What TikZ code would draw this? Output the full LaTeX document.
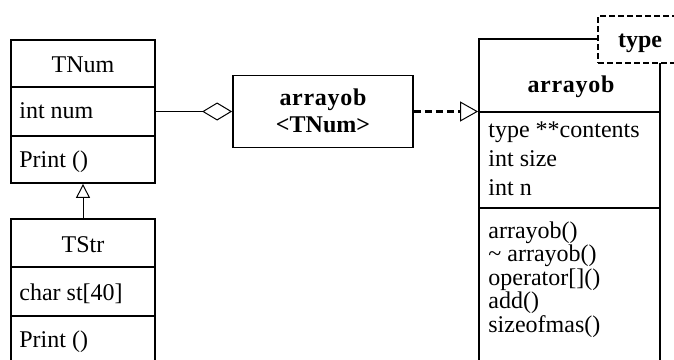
\documentclass[tikz,border=0pt]{standalone}
\usepackage{fontspec}
\setmainfont{Liberation Serif}
\usetikzlibrary{arrows.meta,positioning}
\tikzset{
	box/.style={rectangle, draw, line width=0.9pt, inner sep=0pt},
	rule/.style={line width=0.9pt},
	inherit/.style={-{Triangle[open,length=7pt,width=7pt]}, line width=0.5pt},
	aggregate/.style={-{Diamond[open,length=15pt,width=9pt]}, line width=0.5pt},
	realize/.style={-{Triangle[open,length=9pt,width=10pt,line width=0.5pt]}, line width=1.3pt, dash pattern=on 3.5pt off 2pt}
}

\begin{document}
\begin{tikzpicture}[x=0.5pt, y=-0.5pt,
		font=\fontsize{12}{14}\selectfont,
		plain/.style = {anchor=base west, inner sep=0pt},
		bold/.style = {anchor=base, inner sep=0pt, font=\fontsize{12}{14}\selectfont\bfseries},
	]
	\useasboundingbox (0,0) rectangle (674,359);
	\clip (0,0) rectangle (674,359);

	% base class and derived class
	\node [box, minimum width=72pt, minimum height=71.5pt] (tnum) at (83,111.5) {};
	\node [box, minimum width=72pt, minimum height=75.5pt] (tstr) at (83,294.5) {};
	\foreach\y in {87,136}{
		\draw [rule] (tnum.west |- 0,\y) -- (tnum.east |- 0,\y);
	}
	\foreach\y in {267,316}{
		\draw [rule] (tstr.west |- 0,\y) -- (tstr.east |- 0,\y);
	}
	\node [bold, font=\fontsize{12}{14}\selectfont] (tnumname) at (83,72) {TNum};
	\node [plain] (tnumattr) at (19,118) {int num};
	\node [plain] (tnumop) at (19,167) {Print ()};
	\node [bold, font=\fontsize{12}{14}\selectfont] (tstrname) at (83,252) {TStr};
	\node [plain] (tstrattr) at (19,300) {char st[40]};
	\node [plain] (tstrop) at (19,347) {Print ()};

	% instantiated template
	\node [box, minimum width=90pt, minimum height=36pt] (tmpl) at (323,111.5) {};
	\node [bold] (tmplname) at (323,105) {\addfontfeature{LetterSpace=3}arrayob};
	\node [bold] (tmplarg) at (323,132) {<TNum>};

	% template class
	\node [box, minimum width=90.5pt, minimum height=165.5pt] (arrayob) at (569.5,204.5) {};
	\foreach\y in {112,208}{
		\draw [rule] (arrayob.west |- 0,\y) -- (arrayob.east |- 0,\y);
	}
	\node [bold] (arrayobname) at (571,92) {\addfontfeature{LetterSpace=3}arrayob};
	\foreach\txt [count=\i] in {type **contents, int size, int n}{
		\pgfmathparse{108 + 29*\i}
		\let\y\pgfmathresult
		\node [plain] (attr\i) at (488,\y) {\txt};
	}
	\foreach\txt [count=\i] in {arrayob(), {\textasciitilde{} arrayob()}, operator[](), add(), sizeofmas()}{
		\pgfmathparse{214.5 + 23.5*\i}
		\let\y\pgfmathresult
		\node [plain] (op\i) at (488,\y) {\txt};
	}
	\node [box, dashed, line width=1.2pt, dash pattern=on 3pt off 1.5pt, fill=white,
		minimum width=51pt, minimum height=23.5pt] (param) at (649,39.5) {};
	\node [bold] (paramname) at (640,47) {type};

	% connectors
	\draw [inherit] (tstr.north) -- (tnum.south);
	\draw [aggregate] (tnum.east) -- (tmpl.west);
	\draw [realize] (tmpl.east) -- (arrayob.west |- tmpl.east);
\end{tikzpicture}
\end{document}
